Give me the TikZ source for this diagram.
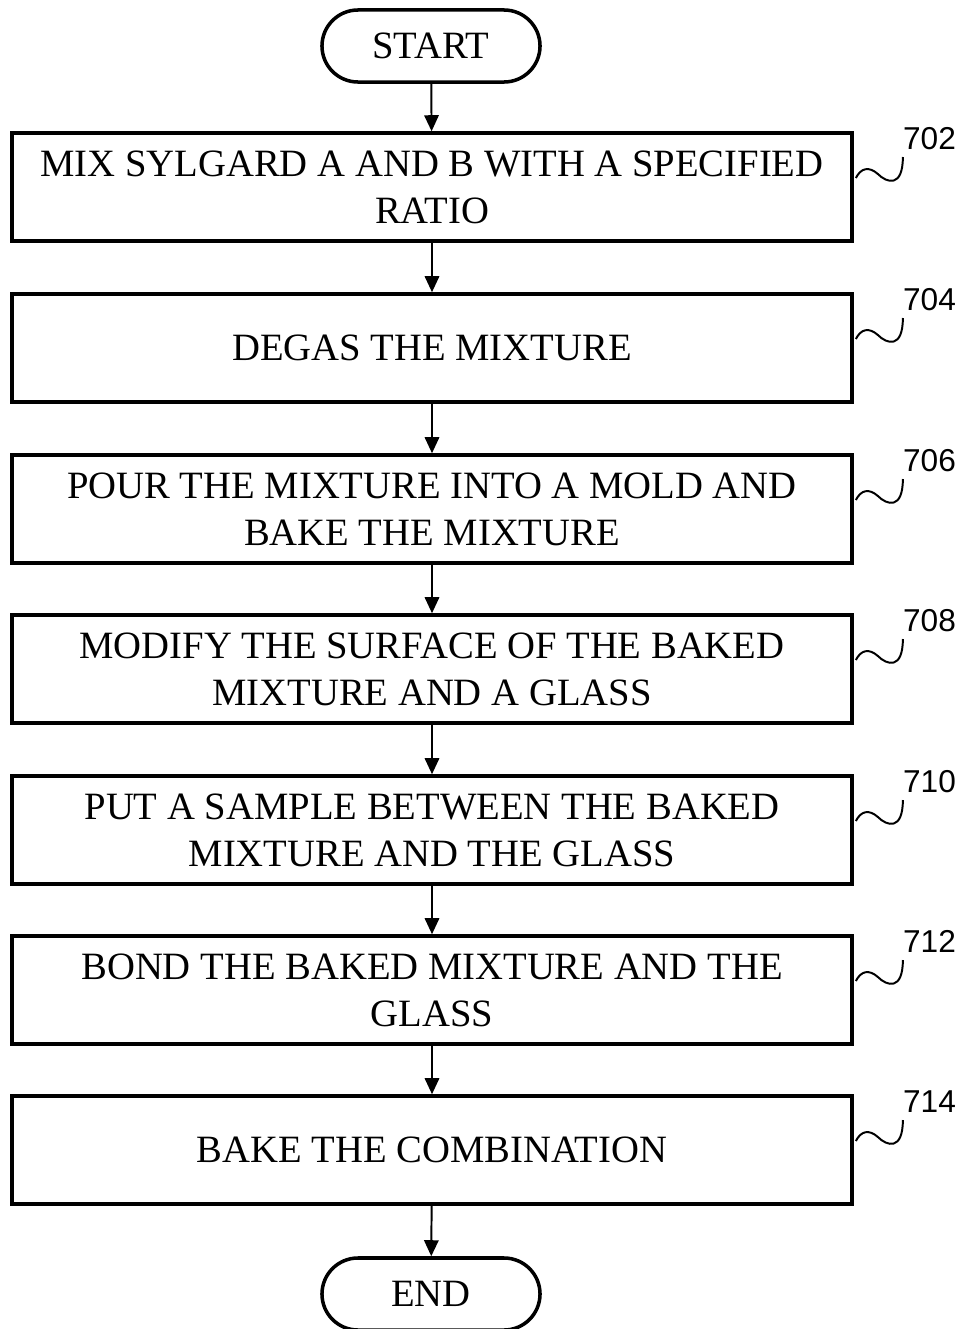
\documentclass[tikz,border=0pt]{standalone}
\usepackage{fontspec}
\setmainfont{Liberation Serif}
\newfontfamily\numfont{Liberation Sans}
\usetikzlibrary{arrows.meta,positioning,calc,shapes.misc}
\tikzset{
  stepbox/.style  = {draw, line width=2.5pt, rectangle, minimum width=21cm,
                     minimum height=2.7cm, align=center, inner sep=0pt,
                     font=\fontsize{27.5}{33.5}\selectfont},
  termbox/.style  = {draw, line width=2.5pt, rounded rectangle, minimum width=5.45cm,
                     minimum height=1.8cm, inner sep=0pt,
                     font=\fontsize{27.5}{33.5}\selectfont},
  flow/.style     = {-{Triangle[length=0.4cm,width=0.36cm]}, line width=1.4pt},
  squig/.style    = {line width=1.4pt},
  reftext/.style  = {font=\numfont\fontsize{22.5}{26}\selectfont, inner sep=0pt},
}
% squiggle from a box to its reference number
\newcommand{\refmark}[2]{%
  \coordinate (#1-s) at ($(#1.east)+(2,-9)$);
  \coordinate (#1-m) at ($(#1-s)+(22,-4)$);
  \coordinate (#1-t) at ($(#1-s)+(47,-21)$);
  \draw[squig] (#1-s) .. controls ($(#1-s)+(5,-10)$) and ($(#1-s)+(13,-12)$) .. (#1-m)
    .. controls ($(#1-m)+(9,9)$) and ($(#1-m)+(25,14)$) .. (#1-t);
  \node[reftext,anchor=base west] (#1-n) at ($(#1-t)+(0,-8)$) {#2};}

\begin{document}
\begin{tikzpicture}[x=0.025cm,y=-0.025cm]
\useasboundingbox (0,0) rectangle (960,1329);
% ---- terminals ----
\node[termbox] (start) at (431,46) {START};
\node[termbox] (end) at (431,1294) {END};
% ---- process steps ----
\node[stepbox] (s702) at (432,187) {MIX SYLGARD A AND B WITH A SPECIFIED\\RATIO};
\node[stepbox] (s704) at (432,348) {DEGAS THE MIXTURE};
\node[stepbox] (s706) at (432,509) {POUR THE MIXTURE INTO A MOLD AND\\BAKE THE MIXTURE};
\node[stepbox] (s708) at (432,669) {MODIFY THE SURFACE OF THE BAKED\\MIXTURE AND A GLASS};
\node[stepbox] (s710) at (432,830) {PUT A SAMPLE BETWEEN THE BAKED\\MIXTURE AND THE GLASS};
\node[stepbox] (s712) at (432,990) {BOND THE BAKED MIXTURE AND THE\\GLASS};
\node[stepbox] (s714) at (432,1150) {BAKE THE COMBINATION};
% ---- connectors ----
\draw[flow] (start) -- (s702);
\draw[flow] (s702) -- (s704);
\draw[flow] (s704) -- (s706);
\draw[flow] (s706) -- (s708);
\draw[flow] (s708) -- (s710);
\draw[flow] (s710) -- (s712);
\draw[flow] (s712) -- (s714);
\draw[flow] (s714) -- (end);
% ---- reference numbers ----
\refmark{s702}{702}
\refmark{s704}{704}
\refmark{s706}{706}
\refmark{s708}{708}
\refmark{s710}{710}
\refmark{s712}{712}
\refmark{s714}{714}
\end{tikzpicture}
\end{document}
